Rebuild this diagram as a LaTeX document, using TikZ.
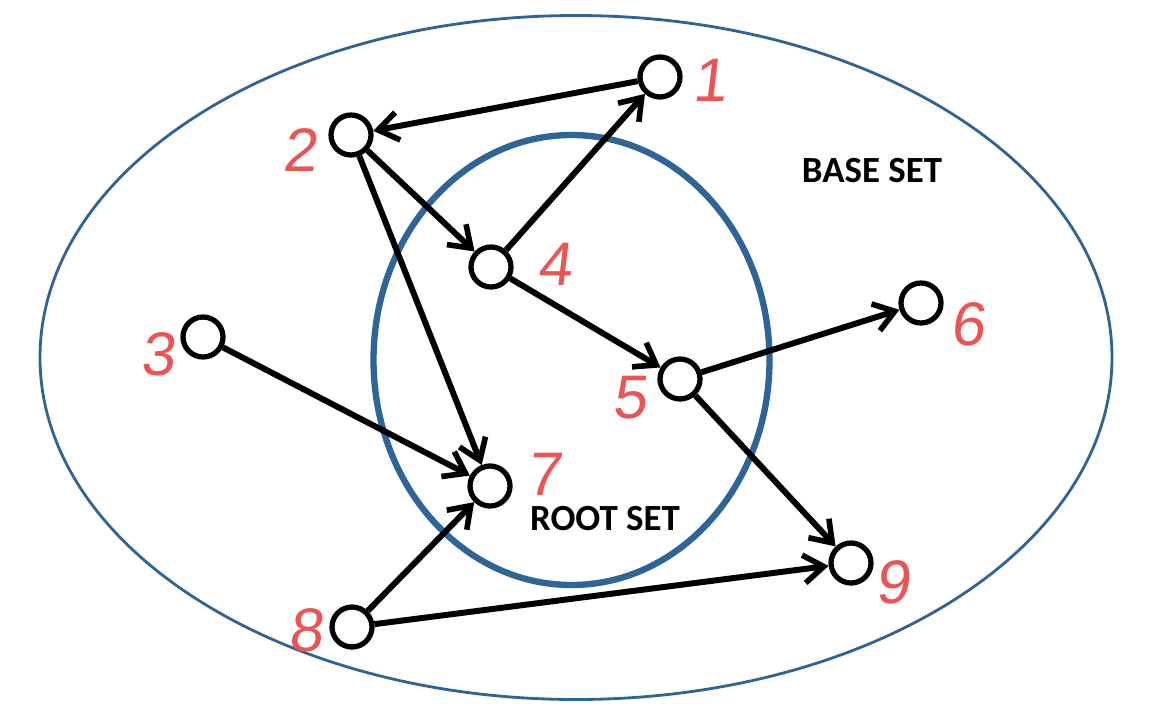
\documentclass[tikz,border=0pt]{standalone}
\usepackage{fontspec}
\setmainfont{Carlito}
\newfontfamily\handfont[FakeSlant=0.12]{Liberation Sans}
\usetikzlibrary{arrows.meta}
\definecolor{setblue}{RGB}{46,100,150}
\definecolor{numred}{RGB}{236,84,84}
\tikzset{
  vtx/.style={circle,draw=black,line width=3pt,fill=white,minimum size=0.8cm,inner sep=0pt},
  edge/.style={line width=3.4pt,-{Straight Barb[length=0.4cm,width=0.56cm,line width=3.2pt]}},
  num/.style={text=numred,font=\handfont\fontsize{35}{35}\selectfont,inner sep=0pt},
  setlbl/.style={font=\bfseries\fontsize{21}{21}\selectfont,inner sep=0pt}
}
\begin{document}
\begin{tikzpicture}[x=0.02cm,y=-0.02cm]
\useasboundingbox (0,0) rectangle (1172,720);
\fill[white] (0,0) rectangle (1172,720);
\draw[setblue,line width=1.6pt] (576,357.5) ellipse [x radius=536, y radius=342];
\draw[setblue,line width=3.6pt] (571.5,360) ellipse [x radius=198, y radius=225];
\node[setlbl] (base) at (872,171) {BASE SET};
\node[setlbl] (root) at (605,519) {ROOT SET};
\node[vtx] (n1) at (660,77) {};
\node[vtx] (n2) at (351,135) {};
\node[vtx] (n3) at (203,337) {};
\node[vtx] (n4) at (491,267) {};
\node[vtx] (n5) at (680,379) {};
\node[vtx] (n6) at (921,303) {};
\node[vtx] (n7) at (490,486) {};
\node[vtx] (n8) at (352,627) {};
\node[vtx] (n9) at (851,563) {};
\node[num] (l1) at (710,80) {1};
\node[num] (l2) at (300,150) {2};
\node[num] (l3) at (158,354) {3};
\node[num] (l4) at (555,264) {4};
\node[num] (l5) at (630,398) {5};
\node[num] (l6) at (968,324) {6};
\node[num] (l7) at (544,474) {7};
\node[num] (l8) at (306,630) {8};
\node[num] (l9) at (893,582) {9};
\draw[edge] (n1) -- (n2);
\draw[edge] (n2) -- (n4);
\draw[edge] (n2) -- (n7);
\draw[edge] (n4) -- (n1);
\draw[edge] (n4) -- (n5);
\draw[edge] (n3) -- (n7);
\draw[edge] (n5) -- (n6);
\draw[edge] (n5) -- (n9);
\draw[edge] (n8) -- (n7);
\draw[edge] (n8) -- (n9);
\end{tikzpicture}
\end{document}
